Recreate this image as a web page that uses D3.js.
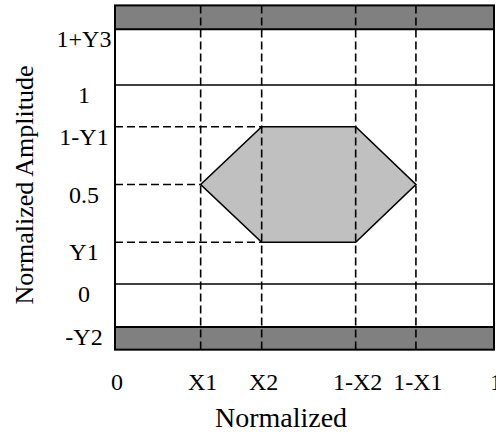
<!DOCTYPE html>
<html>
<head>
<meta charset="utf-8">
<script src="https://cdn.jsdelivr.net/npm/d3@7"></script>
<style>
  html, body { margin: 0; padding: 0; background: #fff; overflow: hidden; }
  text { font-family: "Liberation Serif", "Times New Roman", serif; fill: #000; }
</style>
</head>
<body>
<svg id="chart" width="496" height="432"></svg>
<script>
// ---- data ----
const xTickLabels = ["0", "X1", "X2", "1-X2", "1-X1", "1"];
const xTickValues = [0, 0.226, 0.387, 0.635, 0.794, 1];
const yTickLabels = ["1+Y3", "1", "1-Y1", "0.5", "Y1", "0", "-Y2"];
const yTickValues = [1.28, 1, 0.79, 0.5, 0.21, 0, -0.216];
const yDomain = [-0.33, 1.4];           // plot extent in amplitude units
const levelLines = [0, 1];              // solid reference lines
const topBand = [1.28, 1.4];            // forbidden region above
const bottomBand = [-0.33, -0.216];     // forbidden region below
// eye mask hexagon (x, y)
const maskX = [0.226, 0.387, 0.635, 0.794, 0.635, 0.387];
const maskY = [0.5, 0.79, 0.79, 0.5, 0.21, 0.21];
// horizontal dashed guides: [y, xEnd]
const hGuideY = [0.79, 0.5, 0.21];
const hGuideXEnd = [0.387, 0.226, 0.387];
// vertical dashed guides
const vGuideX = [0.226, 0.387, 0.635, 0.794];

const xTitle = "Normalized";
const yTitle = "Normalized Amplitude";

(function () {
// ---- scales ----
const svg = d3.select("#chart");
const x = d3.scaleLinear().domain([0, 1]).range([115, 494]);
const y = d3.scaleLinear().domain([0, 1]).range([284, 85]);

const pLeft = x(0), pRight = x(1);
const pTop = y(yDomain[1]), pBottom = y(yDomain[0]);

// bands
[topBand, bottomBand].forEach(b => {
  svg.append("rect")
    .attr("x", pLeft).attr("width", pRight - pLeft)
    .attr("y", y(b[1])).attr("height", y(b[0]) - y(b[1]))
    .attr("fill", "#808080");
});

// hexagon
svg.append("polygon")
  .attr("points", maskX.map((v, i) => [x(v), y(maskY[i])].join(",")).join(" "))
  .attr("fill", "#c0c0c0")
  .attr("stroke", "#000")
  .attr("stroke-width", 1.6)
  .attr("stroke-linejoin", "miter");

// vertical dashed guides
svg.selectAll(".vg").data(vGuideX).join("line")
  .attr("x1", d => x(d)).attr("x2", d => x(d))
  .attr("y1", pTop).attr("y2", pBottom)
  .attr("stroke", "#000").attr("stroke-width", 1.6)
  .attr("stroke-dasharray", "8,4");

// horizontal dashed guides
svg.selectAll(".hg").data(hGuideY).join("line")
  .attr("x1", pLeft).attr("x2", (d, i) => x(hGuideXEnd[i]))
  .attr("y1", d => y(d)).attr("y2", d => y(d))
  .attr("stroke", "#000").attr("stroke-width", 1.6)
  .attr("stroke-dasharray", "8,4");

// solid level lines
svg.selectAll(".lv").data(levelLines).join("line")
  .attr("x1", pLeft).attr("x2", pRight)
  .attr("y1", d => y(d)).attr("y2", d => y(d))
  .attr("stroke", "#000").attr("stroke-width", 1.6);

// band inner edges
svg.append("line").attr("x1", pLeft).attr("x2", pRight)
  .attr("y1", y(topBand[0])).attr("y2", y(topBand[0]))
  .attr("stroke", "#000").attr("stroke-width", 2);
svg.append("line").attr("x1", pLeft).attr("x2", pRight)
  .attr("y1", y(bottomBand[1])).attr("y2", y(bottomBand[1]))
  .attr("stroke", "#000").attr("stroke-width", 2);

// frame
svg.append("rect")
  .attr("x", pLeft).attr("y", pTop)
  .attr("width", pRight - pLeft).attr("height", pBottom - pTop)
  .attr("fill", "none").attr("stroke", "#000").attr("stroke-width", 2);

// y tick labels
svg.selectAll(".yl").data(yTickLabels).join("text")
  .attr("x", 84)
  .attr("y", (d, i) => y(yTickValues[i]) + 18)
  .attr("text-anchor", "middle")
  .attr("font-size", 24)
  .text(d => d);

// x tick labels
svg.selectAll(".xl").data(xTickLabels).join("text")
  .attr("x", (d, i) => x(xTickValues[i]) + 2)
  .attr("y", 390)
  .attr("text-anchor", "middle")
  .attr("font-size", 24)
  .text(d => d);

// axis titles
svg.append("text")
  .attr("transform", "translate(33,185) rotate(-90)")
  .attr("text-anchor", "middle")
  .attr("font-size", 26)
  .text(yTitle);

svg.append("text")
  .attr("x", 281).attr("y", 427)
  .attr("text-anchor", "middle")
  .attr("font-size", 28)
  .text(xTitle);
})();
</script>
</body>
</html>
